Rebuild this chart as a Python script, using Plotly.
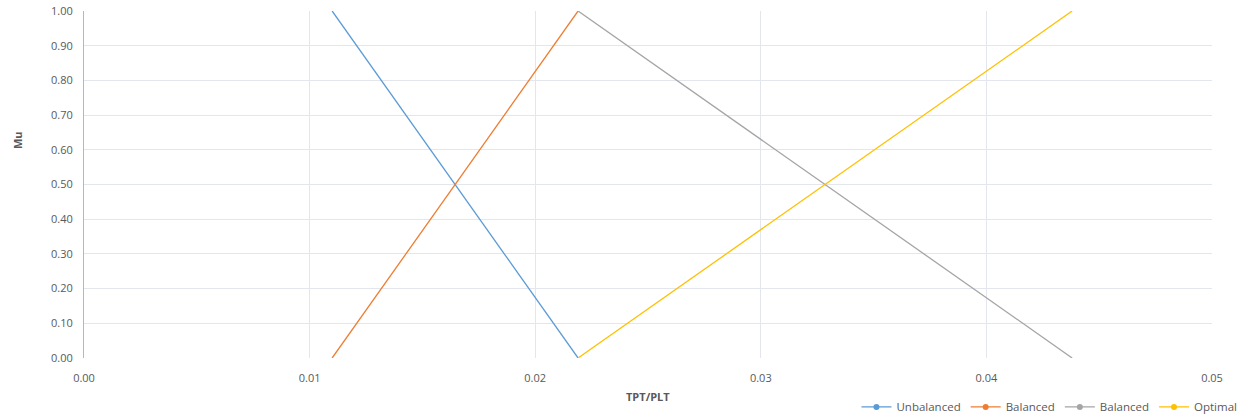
import plotly.graph_objects as go

# Data
unbalanced_x = [0.011, 0.0219]
unbalanced_y = [1.0, 0.0]
balanced1_x = [0.011, 0.0219]
balanced1_y = [0.0, 1.0]
balanced2_x = [0.0219, 0.0438]
balanced2_y = [1.0, 0.0]
optimal_x = [0.0219, 0.0438]
optimal_y = [0.0, 1.0]

series = [
    ("Unbalanced", unbalanced_x, unbalanced_y, "#5B9BD5"),
    ("Balanced", balanced1_x, balanced1_y, "#ED7D31"),
    ("Balanced", balanced2_x, balanced2_y, "#A5A5A5"),
    ("Optimal", optimal_x, optimal_y, "#FFC000"),
]

FONT = "Open Sans, DejaVu Sans, sans-serif"
TXT = "#595959"

fig = go.Figure()
for name, xs, ys, col in series:
    fig.add_trace(go.Scatter(x=xs, y=ys, mode="lines", name=name,
                             line=dict(color=col, width=1.3), showlegend=False))
for name, xs, ys, col in series:
    fig.add_trace(go.Scatter(x=[None], y=[None], mode="lines+markers", name=name,
                             line=dict(color=col, width=1.3),
                             marker=dict(color=col, size=6), showlegend=True))

fig.update_layout(
    width=1248, height=417,
    margin=dict(l=84, r=36, t=11, b=59, autoexpand=False),
    paper_bgcolor="white", plot_bgcolor="white",
    font=dict(family=FONT, size=11, color=TXT),
    legend=dict(orientation="h", x=1.027, xanchor="right", y=-0.141, yanchor="middle",
                font=dict(size=11.5, color=TXT), itemwidth=30, tracegroupgap=0),
    xaxis=dict(range=[0, 0.05], tickvals=[0, 0.01, 0.02, 0.03, 0.04, 0.05],
               ticktext=["0.00", "0.01", "0.02", "0.03", "0.04", "0.05"],
               showgrid=True, gridcolor="#E3E6EC", gridwidth=1, automargin=False,
               zeroline=False, showline=False, ticks="", ticklabelstandoff=12,
               mirror=False),
    yaxis=dict(range=[0, 1], tickvals=[i / 10 for i in range(11)],
               tickformat=".2f", showgrid=True, gridcolor="#E3E6EC", gridwidth=1,
               zeroline=False, showline=True, linecolor="#A9B8D4", linewidth=1,
               ticks="", ticklabelstandoff=8, automargin=False),
    annotations=[
        dict(text="<b>Mu</b>", x=-0.0594, y=0.628, xref="paper", yref="paper",
             textangle=-90, showarrow=False, font=dict(size=11, color=TXT),
             xanchor="center", yanchor="middle"),
        dict(text="<b>TPT/PLT</b>", x=0.5, y=-0.112, xref="paper", yref="paper",
             showarrow=False, font=dict(size=11, color=TXT),
             xanchor="center", yanchor="middle"),
    ],
)

fig.write_html("out.html", config={"displayModeBar": False},
               post_script="document.body.style.margin='0';")
